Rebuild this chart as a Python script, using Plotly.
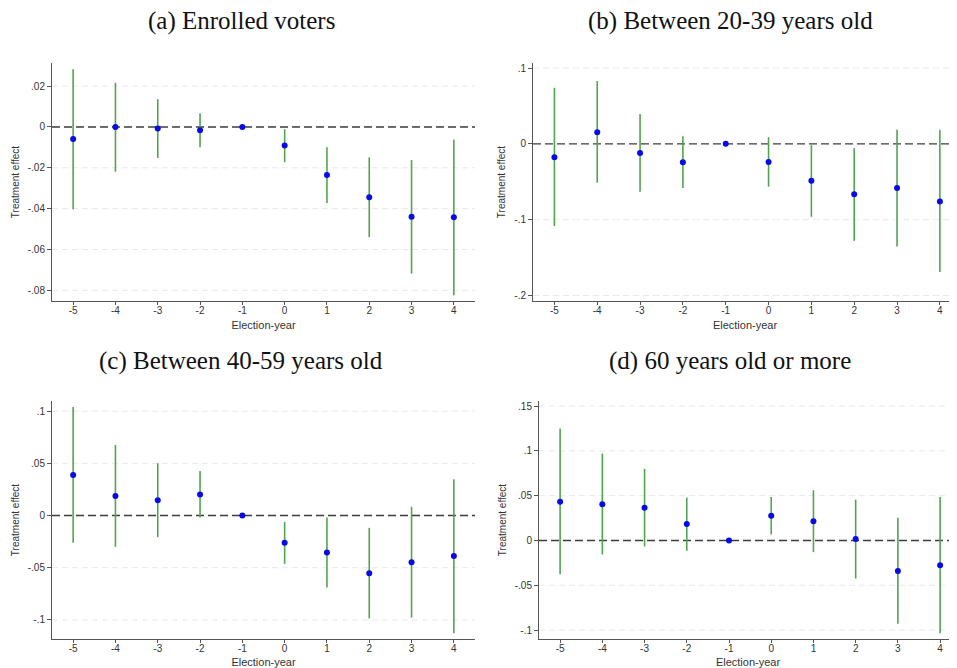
import plotly.graph_objects as go

years = [-5, -4, -3, -2, -1, 0, 1, 2, 3, 4]

# (a) Enrolled voters
a_est = [-0.0059, 0.0, -0.0008, -0.0016, 0.0, -0.0091, -0.0235, -0.0344, -0.0439, -0.0442]
a_hi = [0.0282, 0.0216, 0.0136, 0.0067, 0.0, -0.0011, -0.0100, -0.0149, -0.0162, -0.0062]
a_lo = [-0.0403, -0.0219, -0.0152, -0.0100, 0.0, -0.0173, -0.0372, -0.0539, -0.0718, -0.0824]

# (b) Between 20-39 years old
b_est = [-0.0176, 0.0154, -0.0119, -0.0243, 0.0, -0.0238, -0.0485, -0.0666, -0.0582, -0.0759]
b_hi = [0.0741, 0.0829, 0.0393, 0.0101, 0.0, 0.0088, -0.0018, -0.0057, 0.0185, 0.0185]
b_lo = [-0.1085, -0.0512, -0.0631, -0.0582, 0.0, -0.0565, -0.0962, -0.1279, -0.1354, -0.1689]

# (c) Between 40-59 years old
c_est = [0.0389, 0.0188, 0.0147, 0.0201, 0.0, -0.0262, -0.0354, -0.0552, -0.0447, -0.0389]
c_hi = [0.1040, 0.0676, 0.0501, 0.0427, 0.0, -0.0061, -0.0019, -0.0118, 0.0083, 0.0348]
c_lo = [-0.0262, -0.0300, -0.0207, -0.0019, 0.0, -0.0463, -0.0689, -0.0986, -0.0979, -0.1129]

# (d) 60 years old or more
d_est = [0.0433, 0.0403, 0.0366, 0.0183, 0.0, 0.0276, 0.0213, 0.0015, -0.0340, -0.0276]
d_hi = [0.1250, 0.0970, 0.0799, 0.0478, 0.0, 0.0485, 0.0560, 0.0455, 0.0254, 0.0485]
d_lo = [-0.0377, -0.0157, -0.0067, -0.0116, 0.0, 0.0067, -0.0131, -0.0425, -0.0929, -0.1037]

titles = ["(a) Enrolled voters", "(b) Between 20-39 years old",
          "(c) Between 40-59 years old", "(d) 60 years old or more"]

a_ticks = [0.02, 0, -0.02, -0.04, -0.06, -0.08]
a_ticktext = [".02", "0", "-.02", "-.04", "-.06", "-.08"]
b_ticks = [0.1, 0, -0.1, -0.2]
b_ticktext = [".1", "0", "-.1", "-.2"]
c_ticks = [0.1, 0.05, 0, -0.05, -0.1]
c_ticktext = [".1", ".05", "0", "-.05", "-.1"]
d_ticks = [0.15, 0.1, 0.05, 0, -0.05, -0.1]
d_ticktext = [".15", ".1", ".05", "0", "-.05", "-.1"]

x_label = "Election-year"
y_label = "Treatment effect"

# The page body has an 8px margin; the figure is sized/placed to compensate.
OFF = 8
W, H = 957 - OFF, 668 - OFF


def px(x):
    return (x - OFF) / W


def py(y):
    return 1 - (y - OFF) / H


panels = [
    dict(est=a_est, hi=a_hi, lo=a_lo, tv=a_ticks, tt=a_ticktext, yr=[-0.0852, 0.0313], xr=[-5.5, 4.5],
         xd=[px(52), px(475)], yd=[py(301), py(63)]),
    dict(est=b_est, hi=b_hi, lo=b_lo, tv=b_ticks, tt=b_ticktext, yr=[-0.2073, 0.1067], xr=[-5.5, 4.4],
         xd=[px(533), 1.0], yd=[py(301), py(63)]),
    dict(est=c_est, hi=c_hi, lo=c_lo, tv=c_ticks, tt=c_ticktext, yr=[-0.1183, 0.1097], xr=[-5.5, 4.5],
         xd=[px(52), px(475)], yd=[py(639), py(401)]),
    dict(est=d_est, hi=d_hi, lo=d_lo, tv=d_ticks, tt=d_ticktext, yr=[-0.110, 0.1556], xr=[-5.5, 4.4],
         xd=[px(539), 1.0], yd=[py(639), py(401)]),
]

fig = go.Figure()
sans = "Liberation Sans, Arial, sans-serif"
axis_font = dict(family=sans, size=10, color="#333333")

for i, p in enumerate(panels):
    n = "" if i == 0 else str(i + 1)
    xa = "x" + n
    ya = "y" + n
    # faint dashed grid lines at the non-zero ticks
    for v in p["tv"]:
        if v != 0:
            fig.add_shape(type="line", xref=xa + " domain", yref=ya, x0=0, x1=1, y0=v, y1=v,
                          line=dict(color="#e9e9e9", width=1, dash="6px,4px"), layer="below")
    fig.add_shape(type="line", xref=xa + " domain", yref=ya, x0=0, x1=1, y0=0, y1=0,
                  line=dict(color="#3c3c3c", width=1.4, dash="8px,4px"), layer="below")
    plus = [h - e for h, e in zip(p["hi"], p["est"])]
    minus = [e - l for e, l in zip(p["est"], p["lo"])]
    fig.add_trace(go.Scatter(
        x=years, y=p["est"], mode="markers", xaxis=xa, yaxis=ya,
        marker=dict(color="#0a0ae6", size=6),
        error_y=dict(type="data", symmetric=False, array=plus, arrayminus=minus,
                     color="#52a352", thickness=1.6, width=0),
        showlegend=False,
    ))
    fig.update_layout(**{
        "xaxis" + n: dict(domain=p["xd"], anchor=ya, range=p["xr"], tickvals=years,
                          ticktext=[str(v) for v in years], showline=True, linecolor="#555555",
                          linewidth=1, ticks="outside", ticklen=3, tickcolor="#555555",
                          ticklabelstandoff=-3,
                          showgrid=False, zeroline=False, tickfont=axis_font,
                          title=dict(text=x_label, font=dict(family=sans, size=11, color="#333333"),
                                     standoff=6),
                          automargin=False),
        "yaxis" + n: dict(domain=p["yd"], anchor=xa, range=p["yr"], tickvals=p["tv"],
                          ticktext=p["tt"], showline=True, linecolor="#555555", linewidth=1,
                          ticks="outside", ticklen=4, tickcolor="#555555",
                          showgrid=False, zeroline=False, tickfont=axis_font,
                          title=dict(text=y_label, font=dict(family=sans, size=10, color="#333333"),
                                     standoff=6),
                          automargin=False),
    })

title_pos = [(px(241), py(21)), (px(730), py(21)), (px(241), py(361)), (px(730), py(361))]
for t, (tx, ty) in zip(titles, title_pos):
    fig.add_annotation(text=t, xref="paper", yref="paper", x=tx, y=ty, xanchor="center",
                       yanchor="middle", showarrow=False,
                       font=dict(family="Liberation Serif, Times New Roman, serif", size=25, color="#111111"))

fig.update_layout(width=W, height=H, margin=dict(l=0, r=0, t=0, b=0),
                  paper_bgcolor="white", plot_bgcolor="white")

fig.write_html("out.html")
